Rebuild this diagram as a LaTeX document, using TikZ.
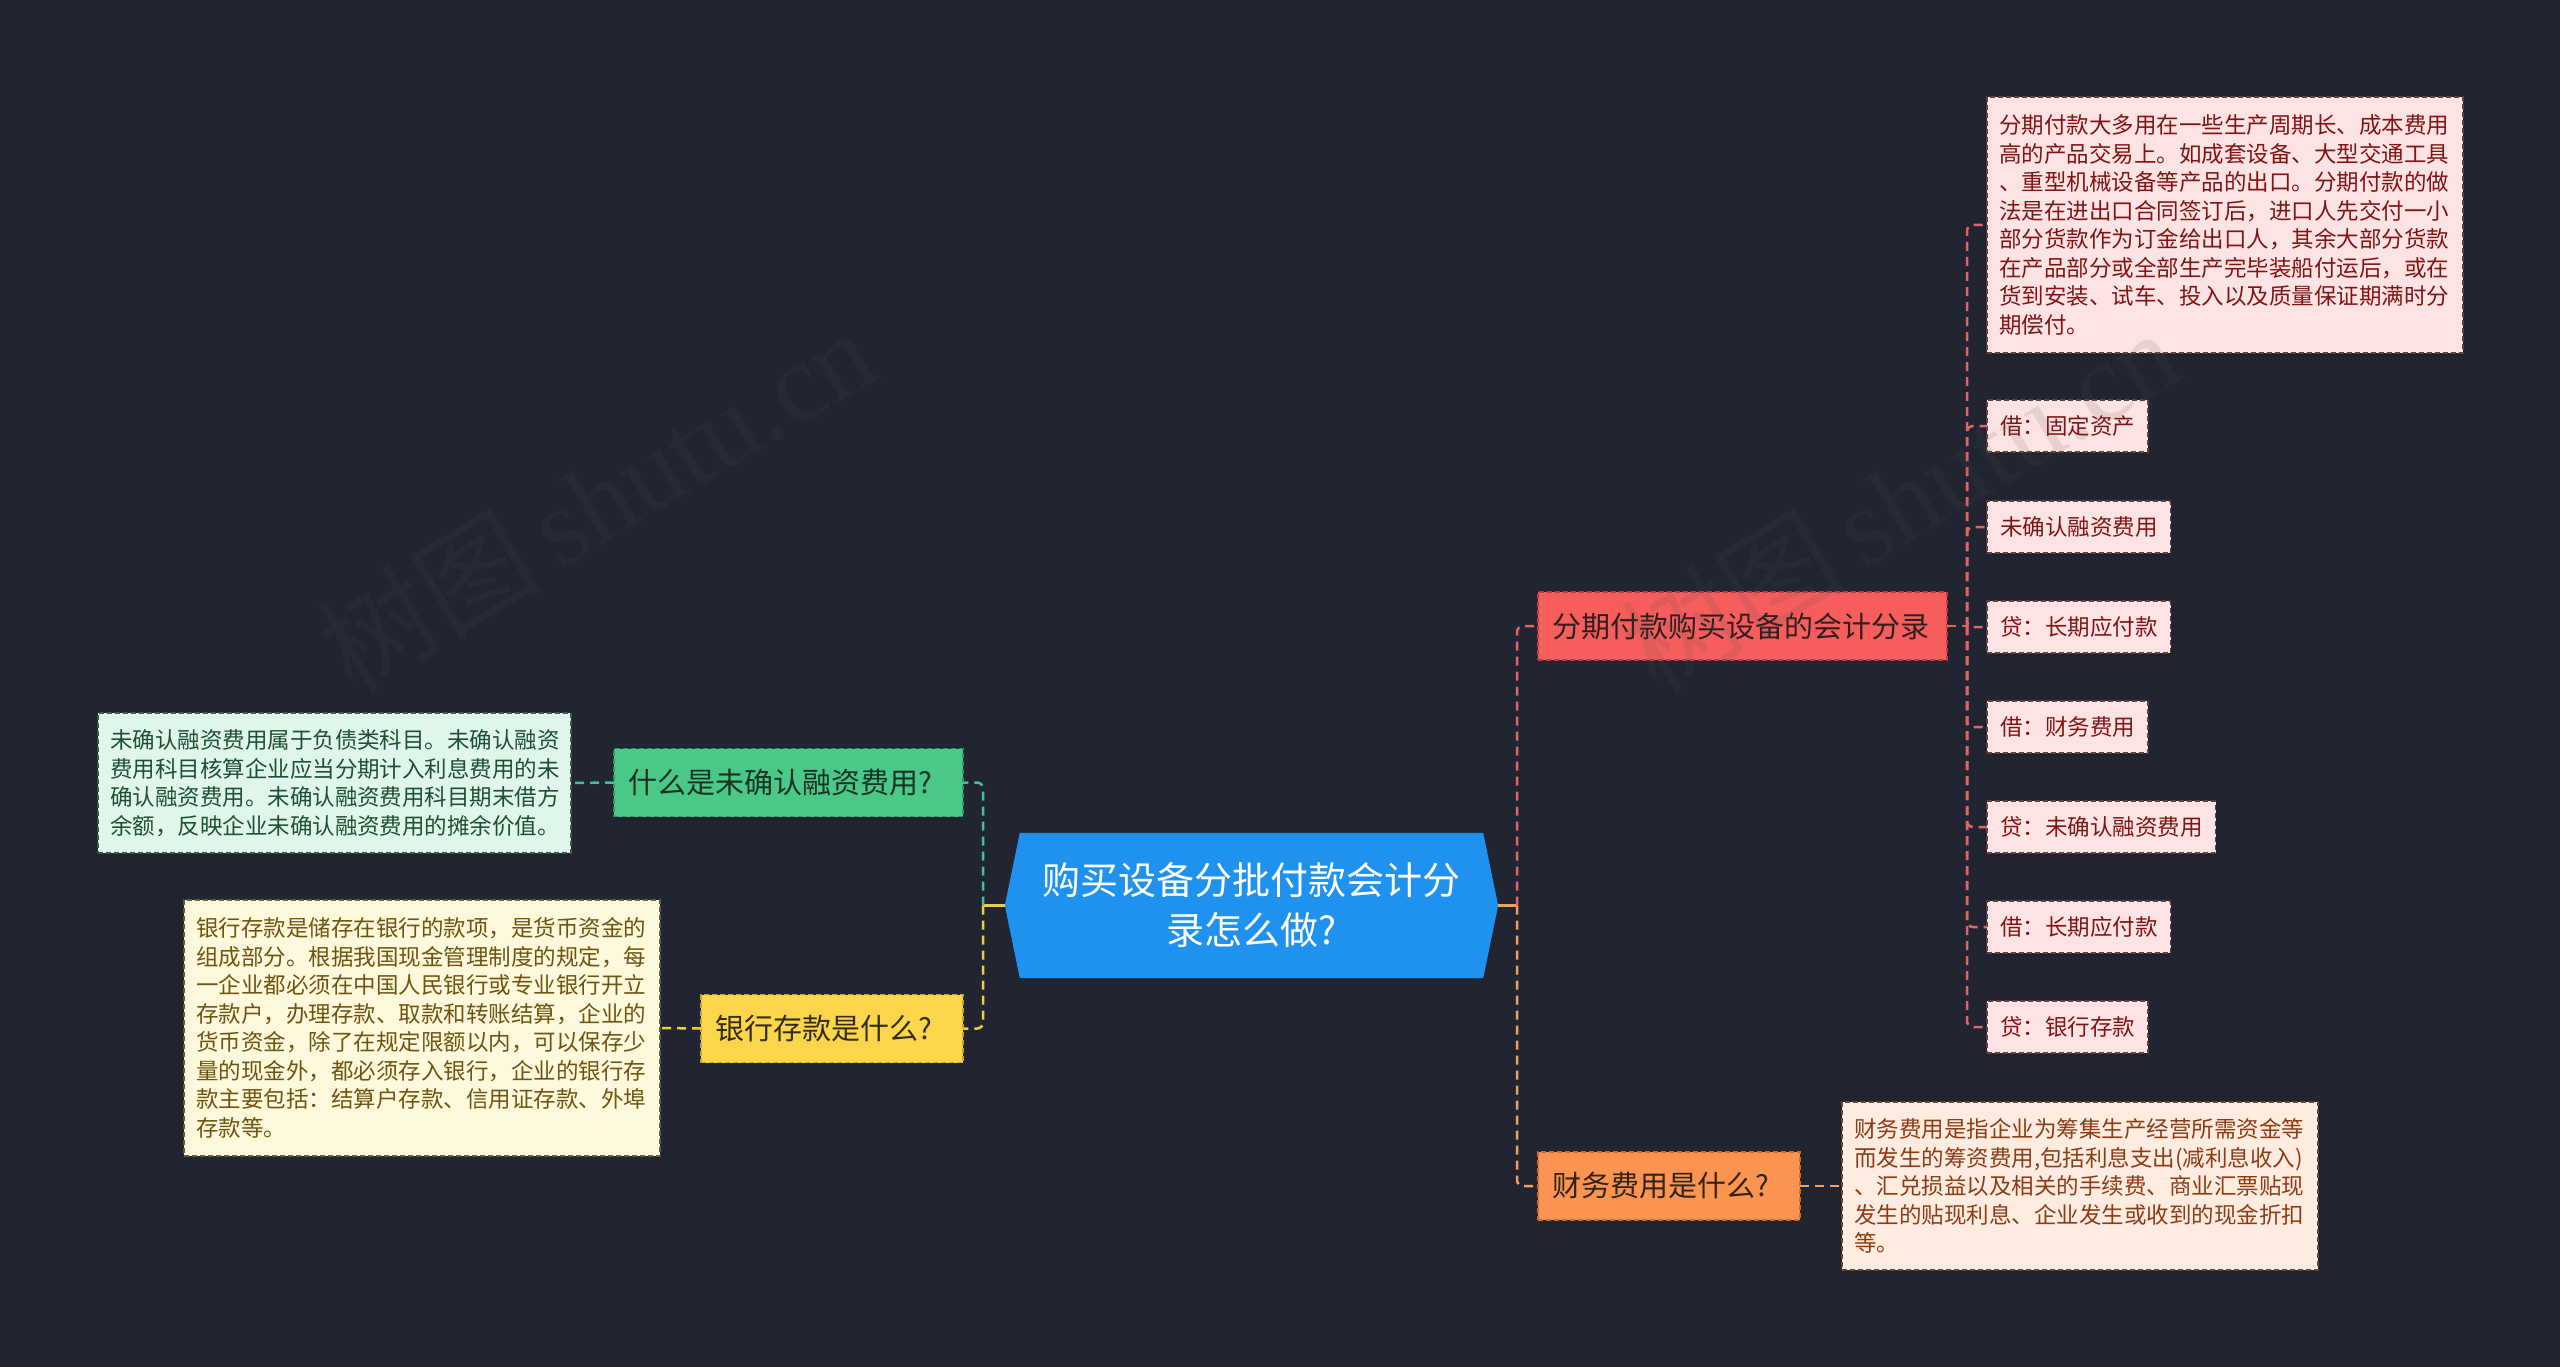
\documentclass[tikz,border=0pt]{standalone}
\usepackage{fontspec}
\newfontfamily\cjk{Noto Sans CJK SC}
\newfontfamily\wmserif{Liberation Serif}
\usetikzlibrary{backgrounds}
\definecolor{bgc}{RGB}{33,37,49}
\definecolor{rootblue}{RGB}{30,146,238}
\definecolor{redfill}{RGB}{246,94,94}
\definecolor{redborder}{RGB}{190,60,60}
\definecolor{redtext}{RGB}{50,30,30}
\definecolor{redcfill}{RGB}{253,228,228}
\definecolor{redcborder}{RGB}{100,60,60}
\definecolor{redctext}{RGB}{128,20,20}
\definecolor{orfill}{RGB}{251,148,80}
\definecolor{orborder}{RGB}{200,110,50}
\definecolor{ortext}{RGB}{50,35,25}
\definecolor{orcfill}{RGB}{254,236,225}
\definecolor{orcborder}{RGB}{100,70,50}
\definecolor{orctext}{RGB}{140,60,20}
\definecolor{grfill}{RGB}{74,200,136}
\definecolor{grborder}{RGB}{50,150,100}
\definecolor{grtext}{RGB}{25,50,35}
\definecolor{grcfill}{RGB}{225,246,235}
\definecolor{grcborder}{RGB}{60,90,70}
\definecolor{grctext}{RGB}{30,80,50}
\definecolor{yefill}{RGB}{252,214,74}
\definecolor{yeborder}{RGB}{200,165,40}
\definecolor{yetext}{RGB}{50,45,20}
\definecolor{yecfill}{RGB}{254,249,221}
\definecolor{yecborder}{RGB}{100,90,50}
\definecolor{yectext}{RGB}{110,85,15}
\definecolor{redline}{RGB}{228,100,100}
\definecolor{orline}{RGB}{245,160,90}
\definecolor{grline}{RGB}{70,190,150}
\definecolor{yeline}{RGB}{235,205,70}
\definecolor{wmgray}{RGB}{78,78,82}
\tikzset{
  boxbase/.style={rectangle, line width=1.5pt, dash pattern=on 5pt off 3pt, outer sep=0pt, inner ysep=0pt},
  branchbox/.style={boxbase, inner xsep=14pt, minimum height=68pt, align=left,
     font=\cjk\fontsize{29}{36}\selectfont},
  childbox/.style={boxbase, inner xsep=12pt, align=left,
     font=\cjk\fontsize{22.5}{28.5}\selectfont},
  smallbox/.style={boxbase, inner xsep=13pt, minimum height=52pt, anchor=west,
     font=\cjk\fontsize{22.5}{28.5}\selectfont},
  redb/.style={branchbox, fill=redfill, draw=redborder, text=redtext},
  orb/.style={branchbox, fill=orfill, draw=orborder, text=ortext},
  grb/.style={branchbox, fill=grfill, draw=grborder, text=grtext},
  yeb/.style={branchbox, fill=yefill, draw=yeborder, text=yetext},
  redc/.style={fill=redcfill, draw=redcborder, text=redctext},
  orc/.style={fill=orcfill, draw=orcborder, text=orctext},
  grc/.style={fill=grcfill, draw=grcborder, text=grctext},
  yec/.style={fill=yecfill, draw=yecborder, text=yectext},
  conn/.style={line width=2.5pt, dash pattern=on 9pt off 6pt, rounded corners=6pt},
  solidconn/.style={line width=2.5pt},
  watermark/.style={rotate=31, anchor=base west, text=wmgray, text opacity=0.13,
     font=\fontsize{112}{112}\selectfont},
}
\begin{document}
\begin{tikzpicture}[x=1pt,y=-1pt]
\begin{scope}[on background layer]
\fill[bgc] (0,0) rectangle (2560,1367);
\end{scope}
\useasboundingbox (0,0) rectangle (2560,1367);

% root
\node[minimum width=493pt, minimum height=145pt, inner sep=0pt, align=center, text=white,
      font=\cjk\fontsize{38}{50}\selectfont] (root) at (1251.5,905.5)
      {购买设备分批付款会计分\\录怎么做?};
\begin{scope}[on background layer]
\fill[rootblue] ([xshift=15pt]root.north west) -- ([xshift=-15pt]root.north east) -- (root.east)
  -- ([xshift=-15pt]root.south east) -- ([xshift=15pt]root.south west) -- (root.west) -- cycle;
\end{scope}

% right branches
\node[redb, minimum width=409pt, text width=381pt] (b1) at (1742.5,626) {分期付款购买设备的会计分录};
\node[orb, minimum width=262pt, text width=234pt] (b2) at (1669,1186) {财务费用是什么?};

% left branches
\node[grb, minimum width=349pt, text width=321pt] (g1) at (788.5,782.5) {什么是未确认融资费用?};
\node[yeb, minimum width=262pt, text width=234pt] (y1) at (832,1028.5) {银行存款是什么?};

% children of b1
\node[childbox, redc, text width=452pt, minimum height=256pt] (rc) at (2225,225)
{分期付款大多用在一些生产周期长、成本费用\\
高的产品交易上。如成套设备、大型交通工具\\
、重型机械设备等产品的出口。分期付款的做\\
法是在进出口合同签订后，进口人先交付一小\\
部分货款作为订金给出口人，其余大部分货款\\
在产品部分或全部生产完毕装船付运后，或在\\
货到安装、试车、投入以及质量保证期满时分\\
期偿付。};
\node[smallbox, redc] (c1) at (1987,426) {借：固定资产};
\node[smallbox, redc] (c2) at (1987,527) {未确认融资费用};
\node[smallbox, redc] (c3) at (1987,627) {贷：长期应付款};
\node[smallbox, redc] (c4) at (1987,727) {借：财务费用};
\node[smallbox, redc] (c5) at (1987,827) {贷：未确认融资费用};
\node[smallbox, redc] (c6) at (1987,927) {借：长期应付款};
\node[smallbox, redc] (c7) at (1987,1027) {贷：银行存款};

% child of b2
\node[childbox, orc, text width=452pt, minimum height=168pt] (pc) at (2080,1186)
{财务费用是指企业为筹集生产经营所需资金等\\
而发生的筹资费用,包括利息支出(减利息收入)\\
、汇兑损益以及相关的手续费、商业汇票贴现\\
发生的贴现利息、企业发生或收到的现金折扣\\
等。};

% child of g1
\node[childbox, grc, text width=449pt, minimum height=140pt] (gc) at (334.5,783)
{未确认融资费用属于负债类科目。未确认融资\\
费用科目核算企业应当分期计入利息费用的未\\
确认融资费用。未确认融资费用科目期末借方\\
余额，反映企业未确认融资费用的摊余价值。};

% child of y1
\node[childbox, yec, text width=452pt, minimum height=256pt] (yc) at (422,1028)
{银行存款是储存在银行的款项，是货币资金的\\
组成部分。根据我国现金管理制度的规定，每\\
一企业都必须在中国人民银行或专业银行开立\\
存款户，办理存款、取款和转账结算，企业的\\
货币资金，除了在规定限额以内，可以保存少\\
量的现金外，都必须存入银行，企业的银行存\\
款主要包括：结算户存款、信用证存款、外埠\\
存款等。};

% connectors right
\coordinate (jr) at (1517,905.5);
\draw[solidconn, orline] (root.east) -- (jr);
\draw[conn, redline] (jr) |- (b1.west);
\draw[conn, orline] (jr) |- (b2.west);
\coordinate (j1) at (1967,626);
\draw[conn, redline] (b1.east) -- (j1);
\foreach \c in {rc,c1,c2,c3,c4,c5,c6,c7} {
  \draw[conn, redline] (j1) |- (\c.west);
}
\draw[conn, orline] (b2.east) -- (pc.west);

% connectors left
\coordinate (jl) at (983,905.5);
\draw[solidconn, yeline] (root.west) -- (jl);
\draw[conn, grline] (jl) |- (g1.east);
\draw[conn, yeline] (jl) |- (y1.east);
\draw[conn, grline] (g1.west) -- (gc.east);
\draw[conn, yeline] (y1.west) -- (yc.east);

% watermarks
\node[watermark] (wm1) at (349,697) {\cjk 树图\,\wmserif shutu.cn};
\node[watermark] (wm2) at (1653,697) {\cjk 树图\,\wmserif shutu.cn};
\end{tikzpicture}
\end{document}
